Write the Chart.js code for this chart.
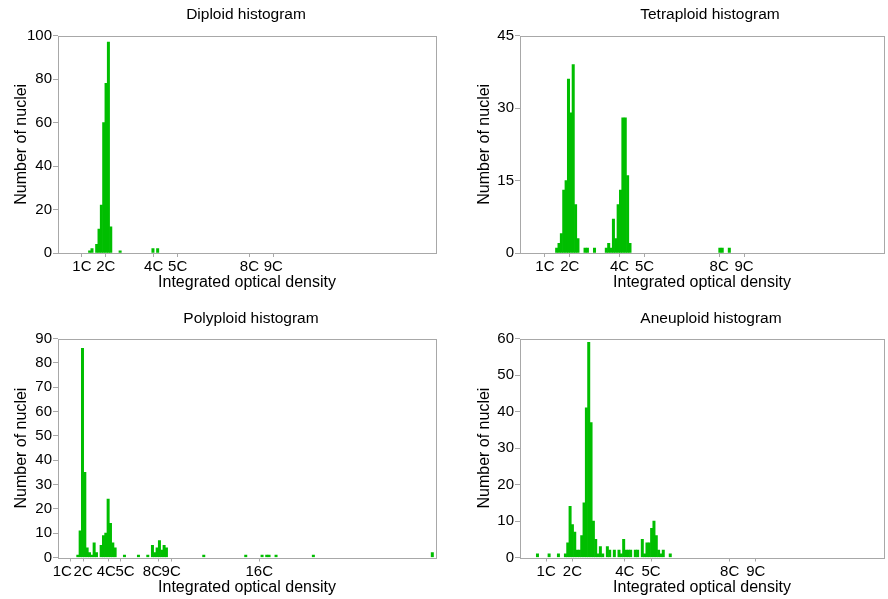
<!DOCTYPE html>
<html>
<head>
<meta charset="utf-8">
<script src="https://cdn.jsdelivr.net/npm/chart.js"></script>
<style>
  html, body { margin:0; padding:0; background:#fff; }
  body { width:888px; height:599px; position:relative; overflow:hidden; }
  .panel { position:absolute; }
</style>
</head>
<body>
<div class="panel" style="left:0;top:0;width:444px;height:300px"><canvas id="c1" width="444" height="300"></canvas></div>
<div class="panel" style="left:444px;top:0;width:444px;height:300px"><canvas id="c2" width="444" height="300"></canvas></div>
<div class="panel" style="left:0;top:300px;width:444px;height:299px"><canvas id="c3" width="444" height="299"></canvas></div>
<div class="panel" style="left:444px;top:300px;width:444px;height:299px"><canvas id="c4" width="444" height="299"></canvas></div>
<script>
// ---- Data (bin index along the integrated-optical-density axis, count of nuclei) ----
const diploidBins   = [13,14,16,17,18,19,20,21,22,26,40,42];
const diploidCounts = [1,2,4,11,22,60,78,97,12,1,2,2];

const tetraploidBins   = [15,16,17,18,19,20,21,22,23,24,27,28,31,36,37,38,39,40,41,42,43,44,45,46,84,85,88];
const tetraploidCounts = [1,2,4,13,15,36,29,39,10,3,1,1,1,1,2,1,7,3,10,13,28,28,16,2,1,1,1];

const polyploidBins   = [8,9,10,11,12,13,14,15,16,18,19,20,21,22,23,24,28,34,38,40,41,42,43,44,45,46,62,80,87,89,90,93,109,160];
const polyploidCounts = [1,11,86,35,4,2,1,6,2,5,9,10,24,14,6,4,1,1,1,5,2,4,7,3,5,4,1,1,1,1,1,1,1,2];

const aneuploidBins   = [7,12,16,19,20,21,22,23,24,25,26,27,28,29,30,31,32,33,34,35,37,38,40,42,43,44,45,46,47,49,50,52,53,54,55,56,57,58,59,60,61,64];
const aneuploidCounts = [1,1,1,1,4,14,9,7,2,2,6,15,41,59,37,10,5,1,3,1,3,2,2,2,1,5,2,2,2,2,2,5,1,4,4,8,10,6,2,1,2,1];

// tick labels (multiples of the C value)
const diploidTicksC    = [1,2,4,5,8,9];
const tetraploidTicksC = [1,2,4,5,8,9];
const polyploidTicksC  = [1,2,4,5,8,9,16];
const aneuploidTicksC  = [1,2,4,5,8,9];

// axis extents / bin widths expressed in C units
const diploidBinC = 0.098,  diploidMaxC = 15.8;
const tetraploidBinC = 0.095, tetraploidMaxC = 14.62;
const polyploidBinC = 0.1854, polyploidMaxC = 30.05;
const aneuploidBinC = 0.0889, aneuploidMaxC = 13.89;

const diploidYMax = 100, diploidYStep = 20;
const tetraploidYMax = 45, tetraploidYStep = 15;
const polyploidYMax = 90, polyploidYStep = 10;
const aneuploidYMax = 60, aneuploidYStep = 10;

// ---- Rendering ----
const FONT = "'Liberation Sans', Arial, sans-serif";
const AXIS_GRAY = '#a8a8a8';
const BAR_GREEN = 'rgb(0,190,0)';
const NB = '\u00a0';

// style only: spacing nudges for crowded tick labels  [leading, trailing] spaces
const polyploidLabelNudge = { 1: [0, 4], 4: [0, 1], 5: [2, 0], 8: [0, 3] };

const framePlugin = {
  id: 'frame',
  afterLayout(chart, args, opts) {
    const t = chart.titleBlock, a = chart.chartArea;
    if (t) { t.left = a.left + (opts.titleShift || 0); t.right = a.right + (opts.titleShift || 0); }
  },
  beforeDatasetsDraw(chart) {
    const a = chart.chartArea, ctx = chart.ctx;
    ctx.save();
    ctx.strokeStyle = AXIS_GRAY;
    ctx.lineWidth = 1;
    ctx.strokeRect(Math.round(a.left) + 0.5, Math.round(a.top) + 0.5,
                   Math.round(a.right - a.left), Math.round(a.bottom - a.top));
    ctx.restore();
  }
};

function makeChart(id, cfg) {
  const points = cfg.bins.map((b, i) => ({ x: (b + 0.5) * cfg.binC, y: cfg.counts[i] }));
  const nudge = cfg.nudge || {};
  const fmt = v => {
    const n = nudge[v] || [0, 0];
    return NB.repeat(n[0]) + v + 'C' + NB.repeat(n[1]);
  };
  return new Chart(document.getElementById(id), {
    type: 'bar',
    data: { datasets: [{ data: points, backgroundColor: BAR_GREEN, borderWidth: 0,
                         barPercentage: 1, categoryPercentage: 1 }] },
    options: {
      responsive: false,
      animation: false,
      layout: { padding: cfg.pad },
      plugins: {
        legend: { display: false },
        tooltip: { enabled: false },
        frame: { titleShift: cfg.titleShift },
        title: { display: true, text: cfg.title, color: '#000',
                 font: { family: FONT, size: 15.5, weight: 'normal' },
                 padding: cfg.titlePad }
      },
      scales: {
        x: {
          type: 'linear', min: 0, max: cfg.maxC, offset: false,
          afterBuildTicks: s => { s.ticks = cfg.ticksC.map(v => ({ value: v })); },
          afterFit: s => { s.height = cfg.xHeight; },
          ticks: { autoSkip: false, maxRotation: 0, minRotation: 0, color: '#000', padding: 1,
                   font: { family: FONT, size: 15 }, callback: fmt },
          grid: { display: true, offset: false, drawOnChartArea: false, drawTicks: true, tickLength: 4, color: AXIS_GRAY },
          border: { display: false },
          title: { display: true, text: 'Integrated optical density', color: '#000', padding: 0,
                   font: { family: FONT, size: 16 } }
        },
        y: {
          min: 0, max: cfg.yMax,
          afterFit: s => { s.width = cfg.yWidth; },
          ticks: { stepSize: cfg.yStep, color: '#000', padding: 1, font: { family: FONT, size: 15 } },
          grid: { display: true, offset: false, drawOnChartArea: false, drawTicks: true, tickLength: 5, color: AXIS_GRAY },
          border: { display: false },
          title: { display: true, text: 'Number of nuclei', color: '#000', padding: 0,
                   font: { family: FONT, size: 16 } }
        }
      }
    },
    plugins: [framePlugin]
  });
}

makeChart('c1', { title: 'Diploid histogram', bins: diploidBins, counts: diploidCounts,
  binC: diploidBinC, maxC: diploidMaxC, ticksC: diploidTicksC, yMax: diploidYMax, yStep: diploidYStep,
  pad: { left: 12, right: 8, top: 0, bottom: 8 }, titlePad: { top: 5, bottom: 12 }, xHeight: 39, yWidth: 46, titleShift: -1 });
makeChart('c2', { title: 'Tetraploid histogram', bins: tetraploidBins, counts: tetraploidCounts,
  binC: tetraploidBinC, maxC: tetraploidMaxC, ticksC: tetraploidTicksC, yMax: tetraploidYMax, yStep: tetraploidYStep,
  pad: { left: 31, right: 4, top: 0, bottom: 8 }, titlePad: { top: 5, bottom: 12 }, xHeight: 39, yWidth: 45, titleShift: 8 });
makeChart('c3', { title: 'Polyploid histogram', bins: polyploidBins, counts: polyploidCounts,
  binC: polyploidBinC, maxC: polyploidMaxC, ticksC: polyploidTicksC, yMax: polyploidYMax, yStep: polyploidYStep,
  pad: { left: 12, right: 8, top: 0, bottom: 2 }, titlePad: { top: 9, bottom: 11 }, xHeight: 39.5, yWidth: 46, titleShift: 4,
  nudge: polyploidLabelNudge });
makeChart('c4', { title: 'Aneuploid histogram', bins: aneuploidBins, counts: aneuploidCounts,
  binC: aneuploidBinC, maxC: aneuploidMaxC, ticksC: aneuploidTicksC, yMax: aneuploidYMax, yStep: aneuploidYStep,
  pad: { left: 31, right: 4, top: 0, bottom: 2 }, titlePad: { top: 9, bottom: 11 }, xHeight: 39.5, yWidth: 45, titleShift: 9 });
</script>
</body>
</html>
